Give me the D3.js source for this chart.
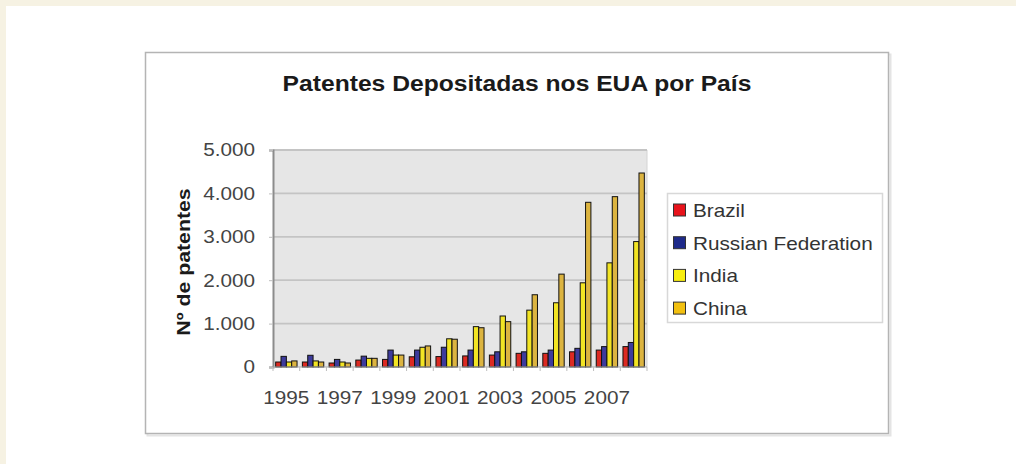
<!DOCTYPE html>
<html>
<head>
<meta charset="utf-8">
<script src="https://cdn.jsdelivr.net/npm/d3@7"></script>
<style>
  html, body { margin: 0; padding: 0; background: #f6f2e3; }
  svg { display: block; }
</style>
</head>
<body>
<svg id="chart" width="1016" height="464"></svg>
<script>
let years = ["1995", "1996", "1997", "1998", "1999", "2000", "2001", "2002", "2003", "2004", "2005", "2006", "2007", "2008"]
let tickYears = ["1995", "1997", "1999", "2001", "2003", "2005", "2007"]
let countries = ["Brazil", "Russian Federation", "India", "China"]
let brazil = [115, 115, 92, 160, 175, 235, 240, 255, 275, 315, 315, 350, 390, 470]
let russia = [245, 270, 175, 250, 390, 390, 455, 390, 350, 350, 390, 430, 470, 565]
let india = [115, 140, 115, 200, 275, 455, 650, 930, 1175, 1310, 1480, 1940, 2400, 2890]
let china = [140, 115, 92, 200, 275, 485, 640, 905, 1045, 1665, 2140, 3795, 3925, 4470]
let yTicks = [0, 1000, 2000, 3000, 4000, 5000]
let colors = ["#dc2a22", "#3d3b9c", "#f2e424", "#dcb440"]
let legendColors = ["#e8141c", "#1e2a8a", "#f8ee10", "#f2c010"]

let series = [brazil, russia, india, china]

let marginLeft = 273,
    plotRight = 647,
    plotTop = 150,
    plotBottom = 367,
    FONT = "Liberation Sans, Arial, sans-serif",
    STRETCH = 1.12

let svg = d3.select("#chart")
let ptBR = d3.formatLocale({decimal: ",", thousands: ".", grouping: [3], currency: ["R$", ""]})
let fmt = ptBR.format(",")

// the original picture is a bit wider than tall, widen the glyphs to match
function stretch(sel) {
    sel.each(function() {
        let w = this.getComputedTextLength()
        d3.select(this)
            .attr("textLength", w * STRETCH)
            .attr("lengthAdjust", "spacingAndGlyphs")
    })
}

// white page panel
svg.append("rect")
    .attr("x", 6).attr("y", 6)
    .attr("width", 1016).attr("height", 464)
    .attr("fill", "#ffffff")

// chart frame
svg.append("rect")
    .attr("x", 147.5).attr("y", 54.5)
    .attr("width", 743).attr("height", 381)
    .attr("fill", "none")
    .attr("stroke", "#e4e4e4")
    .attr("stroke-width", 2)
svg.append("rect")
    .attr("x", 145.5).attr("y", 52.5)
    .attr("width", 743).attr("height", 381)
    .attr("fill", "#ffffff")
    .attr("stroke", "#b4b4b4")
    .attr("stroke-width", 1.5)

svg.append("text")
    .attr("x", 517).attr("y", 91)
    .attr("text-anchor", "middle")
    .attr("font-family", FONT)
    .attr("font-weight", "bold")
    .attr("font-size", 22)
    .attr("fill", "#1a1a1a")
    .text("Patentes Depositadas nos EUA por País")
    .call(stretch)

let x = d3.scaleBand(years, [marginLeft, plotRight])
let inner = d3.scaleBand(countries, [0, x.bandwidth()]).paddingInner(0).paddingOuter(0.5)
let y = d3.scaleLinear([0, 5000], [plotBottom, plotTop])

// plot background
svg.append("rect")
    .attr("x", marginLeft).attr("y", plotTop)
    .attr("width", plotRight - marginLeft).attr("height", plotBottom - plotTop)
    .attr("fill", "#e6e6e6")
svg.append("line")
    .attr("x1", plotRight).attr("x2", plotRight)
    .attr("y1", plotTop).attr("y2", plotBottom)
    .attr("stroke", "#d4d4d4")

// grid
svg.append("g")
    .selectAll("line")
    .data(yTicks.slice(1))
    .join("line")
    .attr("x1", marginLeft).attr("x2", plotRight)
    .attr("y1", d => y(d)).attr("y2", d => y(d))
    .attr("stroke", "#c4c4c4")
    .attr("stroke-width", 1.8)

// bars
svg.append("g")
    .selectAll("g")
    .data(series)
    .join("g")
    .attr("fill", (d, i) => colors[i])
    .selectAll("rect")
    .data((d, i) => d.map((v, j) => ({year: years[j], key: countries[i], value: v})))
    .join("rect")
    .attr("x", d => x(d.year) + inner(d.key))
    .attr("y", d => y(d.value))
    .attr("width", inner.bandwidth())
    .attr("height", d => y(0) - y(d.value))
    .attr("stroke", "#111")
    .attr("stroke-width", 1)

// y axis
let yAxis = svg.append("g")
    .attr("transform", `translate(${marginLeft}, 0)`)
    .call(d3.axisLeft(y).tickValues(yTicks).tickFormat(fmt).tickSize(4).tickPadding(14))
yAxis.select(".domain").attr("stroke", "#8c8c8c").attr("stroke-width", 2)
yAxis.selectAll(".tick line").attr("stroke", "#bdbdbd")
yAxis.selectAll(".tick text")
    .attr("font-family", FONT)
    .attr("font-size", 18.5)
    .attr("fill", "#444")
    .call(stretch)

// x axis
svg.append("line")
    .attr("x1", marginLeft).attr("x2", plotRight)
    .attr("y1", plotBottom).attr("y2", plotBottom)
    .attr("stroke", "#a8a8a8")
svg.append("g")
    .selectAll("line")
    .data(years.concat(["end"]))
    .join("line")
    .attr("x1", (d, i) => marginLeft + i * x.step())
    .attr("x2", (d, i) => marginLeft + i * x.step())
    .attr("y1", plotBottom).attr("y2", plotBottom + 4)
    .attr("stroke", "#bdbdbd")
svg.append("g")
    .selectAll("text")
    .data(tickYears)
    .join("text")
    .attr("x", d => x(d) + x.bandwidth() / 2)
    .attr("y", 404)
    .attr("text-anchor", "middle")
    .attr("font-family", FONT)
    .attr("font-size", 18.5)
    .attr("fill", "#444")
    .text(d => d)
    .call(stretch)

svg.append("text")
    .attr("transform", "translate(190, 262) rotate(-90)")
    .attr("text-anchor", "middle")
    .attr("font-family", FONT)
    .attr("font-weight", "bold")
    .attr("font-size", 19)
    .attr("fill", "#1a1a1a")
    .text("Nº de patentes")
    .call(stretch)

// legend
let legend = svg.append("g")
legend.append("rect")
    .attr("x", 667.5).attr("y", 193.5)
    .attr("width", 215).attr("height", 129)
    .attr("fill", "#fff")
    .attr("stroke", "#d8d8d8")
    .attr("stroke-width", 1.5)
let rows = legend.selectAll("g")
    .data(countries)
    .join("g")
    .attr("transform", (d, i) => `translate(673, ${210 + i * 32.7})`)
rows.append("rect")
    .attr("x", 0.5).attr("y", -6)
    .attr("width", 12).attr("height", 12)
    .attr("fill", (d, i) => legendColors[i])
    .attr("stroke", "#333")
rows.append("text")
    .attr("x", 20).attr("y", 7)
    .attr("font-family", FONT)
    .attr("font-size", 18.5)
    .attr("fill", "#333")
    .text(d => d)
    .call(stretch)
</script>
</body>
</html>
